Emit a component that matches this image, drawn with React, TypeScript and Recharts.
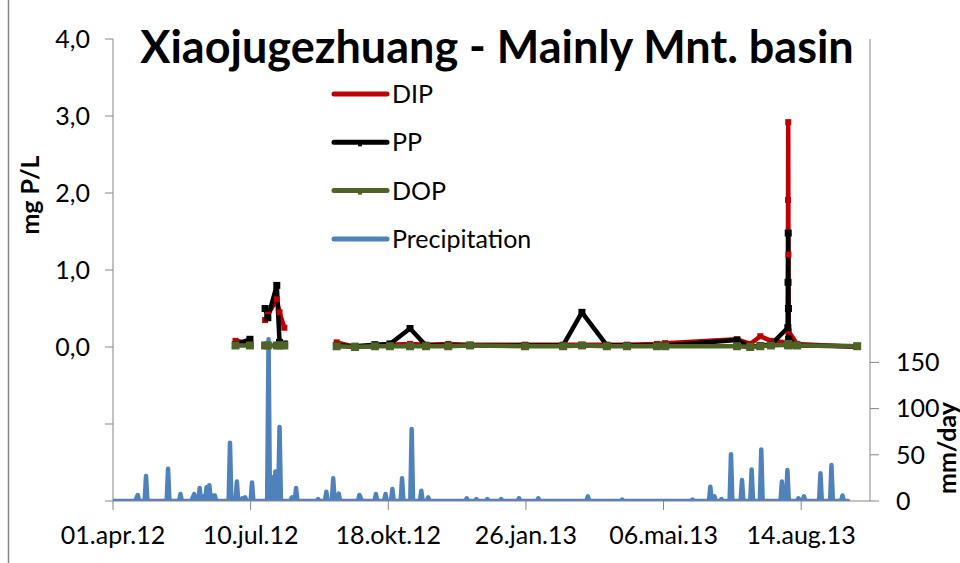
import React from 'react';
import { ComposedChart, Line, XAxis, YAxis, Legend } from 'recharts';

// x values are days since 01.apr.12
const tickDays = [0, 100, 200, 300, 400, 500];
const tickLabels = ['01.apr.12', '10.jul.12', '18.okt.12', '26.jan.13', '06.mai.13', '14.aug.13'];
const leftTicks = [-2, -1, 0, 1, 2, 3, 4];
const rightTicks = [0, 50, 100, 150];
const legendOrder = ['DIP', 'PP', 'DOP', 'Precipitation'];

// water samples (null = gap in the series)
const sampleDays = [
  89, 99.5, 105,
  110.5, 112.5, 119, 121, 124.5, 140,
  162.5, 175.8, 190.3, 201.2, 215.8, 227.4, 243.6, 259.4, 299.4, 327, 340.7, 358.8,
  373.4, 395.2, 401.2, 453.4, 463, 470.3, 478, 490.3, 490.45, 490.6, 490.75, 490.9,
  497, 540.7,
];
const dipValues = [
  0.08, 0.05, null,
  0.35, 0.42, 0.62, 0.45, 0.25, null,
  0.06, 0.0, 0.01, 0.03, 0.04, 0.03, 0.04, 0.03, 0.03, 0.03, 0.03, 0.03,
  0.03, 0.04, 0.05, 0.1, 0.04, 0.14, 0.08, 0.06, 1.91, 2.92, 1.2, 0.2,
  0.04, 0.0,
];
const ppValues = [
  0.03, 0.1, null,
  0.5, 0.38, 0.8, 0.06, 0.04, null,
  0.02, 0.01, 0.03, 0.04, 0.24, 0.02, 0.02, 0.02, 0.02, 0.02, 0.45, 0.02,
  0.02, 0.02, 0.02, 0.09, 0.0, 0.02, 0.03, 0.25, 0.84, 1.48, 0.5, 0.1,
  0.02, 0.01,
];
const dopValues = [
  0.02, 0.02, null,
  0.02, 0.02, 0.02, 0.02, 0.02, null,
  0.01, 0.0, 0.01, 0.01, 0.01, 0.01, 0.01, 0.02, 0.01, 0.01, 0.02, 0.01,
  0.01, 0.01, 0.01, 0.01, 0.0, 0.01, 0.02, 0.03, 0.03, 0.04, 0.03, 0.02,
  0.02, 0.01,
];

// rainy days (mm/day); every other day of the record is dry
const rainDays = [
  17, 18, 24, 40, 49, 58, 59, 63, 66, 68, 70, 72, 74, 85, 90, 94, 96, 101,
  113, 115, 118, 121, 130, 133, 149, 155, 160, 162, 164, 179, 180, 191, 198,
  203, 210, 217, 224, 229, 257, 264, 272, 282, 295, 309, 345, 370, 421, 434,
  437, 442, 449, 457, 464, 471, 486, 490, 498, 502, 514, 522, 530,
];
const rainMm = [
  3, 6.5, 27, 35, 7.5, 4, 7.5, 14, 5, 15, 17, 6, 6, 63, 21, 3, 4, 20,
  175, 26, 32, 80, 4, 14, 2, 10, 24.5, 6, 8, 6.5, 3, 7.5, 7.5,
  13, 24.5, 78, 11, 4, 3, 2, 2, 2, 3, 3, 5, 1.5, 1.5, 15.5,
  5, 2, 50.7, 22.7, 34, 55.8, 21, 33.5, 3, 5, 30, 39, 6,
];
const rainLastDay = 534;

const pData = sampleDays.map((day, i) => ({
  day,
  dip: dipValues[i],
  pp: ppValues[i],
  dop: dopValues[i],
}));

const rainData = Array.from({ length: rainLastDay + 1 }, (_, day) => {
  const idx = rainDays.indexOf(day);
  return { day, rain: idx >= 0 ? rainMm[idx] : 0 };
});

const FONT = 'Lato, "Open Sans", sans-serif';
const AXIS = '#868686';
const RED = '#C00000';
const BLACK = '#000000';
const OLIVE = '#4F6228';
const BLUE = '#4F81BD';

const squareDot = (size: number, color: string) => (props: any) => {
  const { cx, cy, value, index } = props;
  if (cx == null || cy == null || value == null) return <g key={`d${index}`} />;
  return (
    <rect key={`d${index}`} x={cx - size / 2} y={cy - size / 2} width={size} height={size} fill={color} />
  );
};

const renderLegend = (props: any) => {
  const payload = [...(props.payload || [])].sort(
    (a: any, b: any) => legendOrder.indexOf(a.value) - legendOrder.indexOf(b.value),
  );
  return (
    <svg width={240} height={180} style={{ overflow: 'visible' }}>
      {payload.map((entry: any, i: number) => {
        const y = 14 + i * 48.3;
        const marked = entry.value === 'PP' || entry.value === 'DOP';
        return (
          <g key={entry.value}>
            <line x1={3} x2={56} y1={y} y2={y} stroke={entry.color} strokeWidth={5} strokeLinecap="round" />
            {marked && <rect x={27} y={y - 1} width={4} height={5} fill={entry.color} />}
            <text x={61} y={y} dy="0.36em" fontFamily={FONT} fontSize={25} fill="#000">
              {entry.value}
            </text>
          </g>
        );
      })}
    </svg>
  );
};

export default function App() {
  return (
    <div style={{ position: 'absolute', left: 0, top: 0, width: 960, height: 563, background: '#fff' }}>
      <ComposedChart
        width={960}
        height={563}
        margin={{ top: 39, right: 0, bottom: 0, left: 0 }}
      >
        <XAxis
          dataKey="day"
          type="number"
          domain={[0, 550]}
          ticks={tickDays}
          tickFormatter={(v: number) => tickLabels[tickDays.indexOf(v)] ?? ''}
          allowDataOverflow
          height={62}
          stroke={AXIS}
          tickSize={9}
          tickMargin={16}
          tick={{ fill: '#000', fontSize: 25, fontFamily: FONT }}
          interval={0}
        />
        <YAxis
          yAxisId="p"
          domain={[-2, 4]}
          ticks={leftTicks}
          allowDataOverflow
          width={113}
          stroke={AXIS}
          tickSize={8}
          tickMargin={15}
          tick={{ fill: '#000', fontSize: 25, fontFamily: FONT }}
          tickFormatter={(v: number) => (v < 0 ? '' : `${v},0`)}
          interval={0}
        />
        <YAxis
          yAxisId="r"
          orientation="right"
          domain={[0, 500]}
          ticks={rightTicks}
          allowDataOverflow
          width={90}
          stroke={AXIS}
          tickSize={9}
          tickMargin={17}
          tick={{ fill: '#000', fontSize: 25, fontFamily: FONT }}
          interval={0}
        />
        <Legend
          layout="vertical"
          align="center"
          verticalAlign="middle"
          content={renderLegend}
          wrapperStyle={{ left: 331, top: 80, width: 240, height: 180 }}
        />
        <Line
          yAxisId="p"
          data={pData}
          dataKey="dip"
          name="DIP"
          stroke={RED}
          strokeWidth={4.5}
          strokeLinejoin="round"
          dot={squareDot(6, RED)}
          connectNulls={false}
          isAnimationActive={false}
        />
        <Line
          yAxisId="p"
          data={pData}
          dataKey="pp"
          name="PP"
          stroke={BLACK}
          strokeWidth={4.5}
          strokeLinejoin="round"
          dot={squareDot(7, BLACK)}
          connectNulls={false}
          isAnimationActive={false}
        />
        <Line
          yAxisId="p"
          data={pData}
          dataKey="dop"
          name="DOP"
          stroke={OLIVE}
          strokeWidth={4.5}
          strokeLinejoin="round"
          dot={squareDot(8, OLIVE)}
          connectNulls={false}
          isAnimationActive={false}
        />
        <Line
          yAxisId="r"
          data={rainData}
          dataKey="rain"
          name="Precipitation"
          stroke={BLUE}
          strokeWidth={4.5}
          strokeLinejoin="round"
          strokeLinecap="round"
          dot={false}
          isAnimationActive={false}
        />
      </ComposedChart>
      <svg
        width={960}
        height={563}
        style={{ position: 'absolute', left: 0, top: 0, pointerEvents: 'none' }}
      >
        <line x1={8.5} x2={8.5} y1={0} y2={563} stroke={AXIS} strokeWidth={1.5} />
        <text x={497} y={63} textAnchor="middle" fontFamily={FONT} fontWeight="bold" fontSize={45} fill="#000">
          Xiaojugezhuang - Mainly Mnt. basin
        </text>
        <text
          transform="translate(39,195) rotate(-90)"
          textAnchor="middle"
          fontFamily={FONT}
          fontWeight="bold"
          fontSize={25}
          fill="#000"
        >
          mg P/L
        </text>
        <text
          transform="translate(956,448) rotate(-90)"
          textAnchor="middle"
          fontFamily={FONT}
          fontWeight="bold"
          fontSize={25}
          fill="#000"
        >
          mm/day
        </text>
      </svg>
    </div>
  );
}
